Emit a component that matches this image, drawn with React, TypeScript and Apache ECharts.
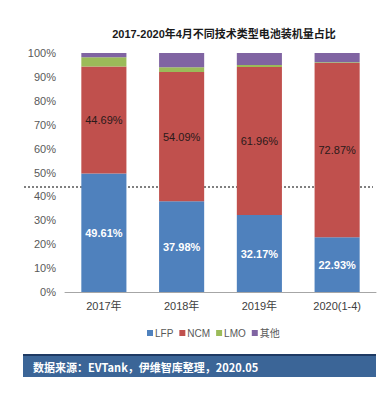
import React, { useEffect, useRef } from "react";
import * as echarts from "echarts";

const categories = ["2017年", "2018年", "2019年", "2020(1-4)"];
const lfp = [49.61, 37.98, 32.17, 22.93];
const ncm = [44.69, 54.09, 61.96, 72.87];
const lmo = [3.9, 2.0, 0.9, 0.3];
const other = [1.8, 5.93, 4.97, 3.9];
const yTicks = [0, 10, 20, 30, 40, 50, 60, 70, 80, 90, 100];

export default function App() {
  const ref = useRef<HTMLDivElement>(null);
  useEffect(() => {
    if (!ref.current) return;
    const chart = echarts.init(ref.current, null, { renderer: "svg" });
    const font = "Arial, 'Liberation Sans', 'Noto Sans CJK SC', sans-serif";
    chart.setOption({
      animation: false,
      backgroundColor: "#ffffff",
      title: {
        text: "2017-2020年4月不同技术类型电池装机量占比",
        left: 219,
        textAlign: "center",
        top: 23,
        textStyle: { fontSize: 11, fontWeight: "bold", color: "#1a1a1a", fontFamily: font },
      },
      legend: {
        top: 323,
        left: 142,
        itemWidth: 6,
        itemHeight: 6,
        itemGap: 6,
        icon: "rect",
        textStyle: { fontSize: 10, color: "#595959", fontFamily: font, padding: [0, 0, 0, -3] },
        data: ["LFP", "NCM", "LMO", "其他"],
      },
      grid: { left: 65, right: 16, top: 53, bottom: 105 },
      xAxis: {
        type: "category",
        data: categories,
        axisLine: { lineStyle: { color: "#a6a6a6" } },
        axisTick: { show: false },
        axisLabel: { color: "#404040", fontSize: 11, margin: 8, fontFamily: font },
      },
      yAxis: {
        type: "value",
        min: yTicks[0],
        max: yTicks[yTicks.length - 1],
        interval: 10,
        axisLine: { show: false },
        axisTick: { show: false },
        splitLine: { show: false },
        axisLabel: { color: "#595959", fontSize: 11, margin: 9, formatter: "{value}%", fontFamily: font },
      },
      graphic: [
        {
          type: "line",
          z: 0,
          shape: { x1: 24, y1: 187, x2: 373, y2: 187 },
          style: { stroke: "#000000", lineWidth: 1, lineDash: [2, 2] },
        },
        {
          type: "rect",
          shape: { x: 23, y: 355, width: 353, height: 22 },
          style: { fill: "#3b6597" },
        },
        {
          type: "rect",
          shape: { x: 23, y: 354, width: 353, height: 2 },
          style: { fill: "#1e3a63" },
        },
        {
          type: "text",
          x: 33,
          y: 367,
          style: {
            text: "数据来源：EVTank，伊维智库整理，2020.05",
            fill: "#ffffff",
            font: "bold 11px 'Noto Sans CJK SC', sans-serif",
            verticalAlign: "middle",
          },
        },
      ],
      series: [
        {
          name: "LFP",
          type: "bar",
          stack: "a",
          data: lfp,
          barCategoryGap: "42%",
          itemStyle: { color: "#4f81bd" },
          label: {
            show: true,
            position: "inside",
            formatter: (p: any) => p.value.toFixed(2) + "%",
            color: "#ffffff",
            fontWeight: "bold",
            fontSize: 11,
            fontFamily: font,
          },
        },
        {
          name: "NCM",
          type: "bar",
          stack: "a",
          data: ncm,
          itemStyle: { color: "#c0504d" },
          label: {
            show: true,
            position: "inside",
            formatter: (p: any) => p.value.toFixed(2) + "%",
            color: "#2a1a1a",
            fontSize: 11,
            fontFamily: font,
          },
        },
        { name: "LMO", type: "bar", stack: "a", data: lmo, itemStyle: { color: "#9bbb59" } },
        { name: "其他", type: "bar", stack: "a", data: other, itemStyle: { color: "#8064a2" } },
      ],
    });
    return () => chart.dispose();
  }, []);
  return (
    <div
      ref={ref}
      style={{ position: "fixed", left: 0, top: 0, width: 392, height: 397 }}
    />
  );
}
